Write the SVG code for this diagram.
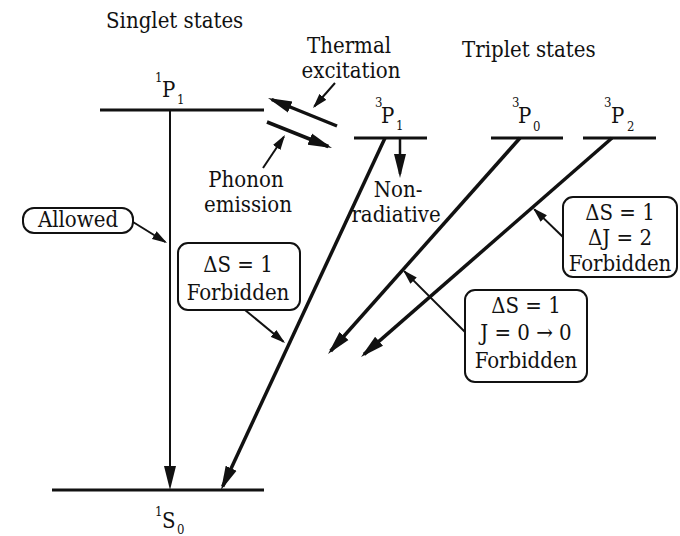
<svg xmlns="http://www.w3.org/2000/svg" width="680" height="536" viewBox="0 0 680 536">
<style>
text{font-family:'DejaVu Serif Condensed','DejaVu Serif',serif;font-stretch:condensed;font-size:22px;fill:#111}
.c{text-anchor:middle}
.sm{font-size:13px}
.lvl{stroke:#111;stroke-width:3;fill:none}
.main{stroke:#111;fill:none;marker-end:url(#ah)}
.ptr{stroke:#111;stroke-width:2;fill:none;marker-end:url(#ph)}
.box{fill:#fff;stroke:#111;stroke-width:2}
</style>
<defs>
<marker id="ah" markerUnits="userSpaceOnUse" markerWidth="24" markerHeight="14" viewBox="0 -7 24 14" refX="20" refY="0" orient="auto"><path d="M0,-6 L24,0 L0,6 z" fill="#111"/></marker>
<marker id="ph" markerUnits="userSpaceOnUse" markerWidth="16" markerHeight="10" viewBox="0 -5 16 10" refX="13" refY="0" orient="auto"><path d="M0,-4.5 L15,0 L0,4.5 z" fill="#111"/></marker>
</defs>
<rect width="680" height="536" fill="#fff"/>

<g id="titles">
<text x="106" y="28">Singlet states</text>
<text x="462" y="57">Triplet states</text>
</g>

<g id="level-1P1">
<line class="lvl" x1="100" y1="110" x2="264" y2="110"/>
<text><tspan class="sm" x="155" y="82">1</tspan><tspan x="162" y="97">P</tspan><tspan class="sm" x="177" y="104">1</tspan></text>
</g>
<g id="level-3P1">
<line class="lvl" x1="354" y1="138" x2="427" y2="138"/>
<text><tspan class="sm" x="375" y="107">3</tspan><tspan x="381" y="123">P</tspan><tspan class="sm" x="396" y="130">1</tspan></text>
</g>
<g id="level-3P0">
<line class="lvl" x1="491" y1="138" x2="563" y2="138"/>
<text><tspan class="sm" x="512" y="107">3</tspan><tspan x="518" y="123">P</tspan><tspan class="sm" x="533" y="131">0</tspan></text>
</g>
<g id="level-3P2">
<line class="lvl" x1="583" y1="138" x2="656" y2="138"/>
<text><tspan class="sm" x="604" y="107">3</tspan><tspan x="611" y="123">P</tspan><tspan class="sm" x="627" y="131">2</tspan></text>
</g>
<g id="level-1S0">
<line class="lvl" x1="52" y1="490" x2="264" y2="490"/>
<text><tspan class="sm" x="155" y="516">1</tspan><tspan x="162" y="528">S</tspan><tspan class="sm" x="177" y="534">0</tspan></text>
</g>

<g id="connectors">
<path class="main" stroke-width="2" d="M170,110 L170,486"/>
<path class="main" stroke-width="3.5" d="M385,138 L222.7,486.4"/>
<path class="main" stroke-width="2.5" d="M400,138 L400,174"/>
<path class="main" stroke-width="3.5" d="M520,138 L330.7,351"/>
<path class="main" stroke-width="3.5" d="M612,138 L364,354.4"/>
<path class="main" stroke-width="3.5" d="M337,126 L271.7,99.5"/>
<path class="main" stroke-width="3.5" d="M267,122 L328.3,146.5"/>
<path class="ptr" d="M335,83 L314.3,106.5"/>
<path class="ptr" d="M263,168 L283.9,136.7"/>
<path class="ptr" d="M133,222 L165.3,242"/>
<path class="ptr" d="M245,310 L283.5,341.7"/>
<path class="ptr" d="M563,237 L534.4,209.4"/>
<path class="ptr" d="M466,333 L404.4,271.4"/>
</g>

<g id="label-thermal">
<text class="c" x="349" y="53">Thermal</text>
<text class="c" x="351" y="78">excitation</text>
</g>
<g id="label-phonon">
<text class="c" x="246" y="187">Phonon</text>
<text class="c" x="248" y="212">emission</text>
</g>
<g id="label-nonrad">
<text class="c" x="398" y="197">Non-</text>
<text class="c" x="396" y="222">radiative</text>
</g>

<g id="box-allowed">
<rect class="box" x="23" y="208" width="110" height="25" rx="11"/>
<text class="c" x="78" y="227">Allowed</text>
</g>
<g id="box-ds1">
<rect class="box" x="178" y="243" width="122" height="67" rx="10"/>
<text class="c" x="238" y="272">ΔS = 1</text>
<text class="c" x="238" y="300">Forbidden</text>
</g>
<g id="box-dj2">
<rect class="box" x="563" y="197" width="114" height="80" rx="10"/>
<text class="c" x="620" y="220">ΔS = 1</text>
<text class="c" x="620" y="245">ΔJ = 2</text>
<text class="c" x="620" y="271">Forbidden</text>
</g>
<g id="box-j00">
<rect class="box" x="465" y="290" width="122" height="92" rx="10"/>
<text class="c" x="526" y="313">ΔS = 1</text>
<text class="c" x="526" y="340">J = 0 → 0</text>
<text class="c" x="526" y="368">Forbidden</text>
</g>
</svg>
